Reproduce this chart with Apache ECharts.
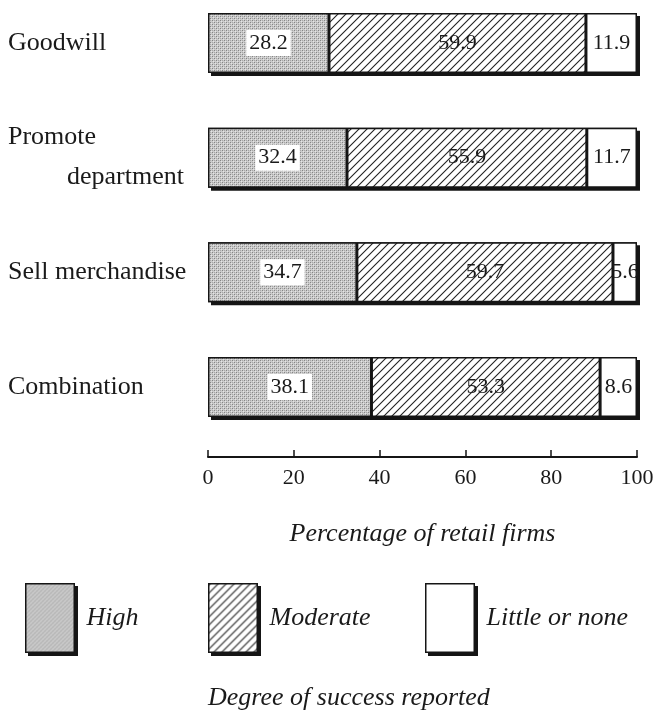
<!DOCTYPE html>
<html><head><meta charset="utf-8">
<script src="https://cdn.jsdelivr.net/npm/echarts@6/dist/echarts.min.js"></script>
<style>html,body{margin:0;padding:0;background:#fff}#c{width:657px;height:711px}</style>
</head><body><div id="c"></div>
<script>
const categories = ['Goodwill', 'Promote department', 'Sell merchandise', 'Combination'];
const high = [28.2, 32.4, 34.7, 38.1];
const moderate = [59.9, 55.9, 59.7, 53.3];
const little = [11.9, 11.7, 5.6, 8.6];
const seriesNames = ['High', 'Moderate', 'Little or none'];
const xTicks = [0, 20, 40, 60, 80, 100];

function stipple() {
  const c = document.createElement('canvas'); c.width = 4; c.height = 4;
  const g = c.getContext('2d');
  g.fillStyle = '#cbcbcb'; g.fillRect(0, 0, 4, 4);
  g.fillStyle = '#858585'; g.fillRect(0, 0, 1, 1); g.fillRect(2, 2, 1, 1);
  g.fillStyle = '#a8a8a8'; g.fillRect(2, 0, 1, 1); g.fillRect(0, 2, 1, 1);
  g.fillStyle = '#e4e4e4'; g.fillRect(1, 1, 1, 1); g.fillRect(3, 3, 1, 1);
  return c;
}
function hatch() {
  const c = document.createElement('canvas'); c.width = 8; c.height = 8;
  const g = c.getContext('2d');
  g.fillStyle = '#ffffff'; g.fillRect(0, 0, 8, 8);
  g.strokeStyle = '#222'; g.lineWidth = 1.1;
  g.beginPath();
  g.moveTo(-1, 9); g.lineTo(9, -1);
  g.moveTo(-1, 1); g.lineTo(1, -1);
  g.moveTo(7, 9); g.lineTo(9, 7);
  g.stroke();
  return c;
}
const fills = [
  { image: stipple(), repeat: 'repeat' },
  { image: hatch(), repeat: 'repeat' },
  '#ffffff'
];
const serif = '"Liberation Serif", "DejaVu Serif", serif';
const ink = '#151515';
const txt = '#1a1a1a';
const seriesData = [high, moderate, little];
const chart = echarts.init(document.getElementById('c'));
const legendLefts = [25, 208, 425];
chart.setOption({
  backgroundColor: '#ffffff',
  animation: false,
  title: {
    text: 'Degree of success reported', left: 203, top: 680,
    textStyle: { fontFamily: serif, fontStyle: 'italic', fontWeight: 'normal', fontSize: 26, color: txt }
  },
  legend: seriesNames.map((n, i) => ({
    data: [n], left: legendLefts[i], top: 583, padding: 0,
    itemWidth: 47, itemHeight: 67, icon: 'rect',
    itemStyle: { borderColor: ink, borderWidth: 3, shadowColor: ink, shadowOffsetX: 3, shadowOffsetY: 3, shadowBlur: 0 },
    textStyle: { fontFamily: serif, fontStyle: 'italic', fontSize: 26, color: txt, padding: [0, 0, 0, 8] },
    selectedMode: false
  })),
  grid: { left: 208, right: 20, top: 43, bottom: 324 },
  xAxis: {
    type: 'value', min: 0, max: 100, interval: 20, offset: 70,
    axisLine: { show: true, lineStyle: { color: ink, width: 2 } },
    axisTick: { show: true, inside: true, length: 7, lineStyle: { color: ink, width: 1.5 } },
    splitLine: { show: false },
    axisLabel: {
      margin: 10, fontFamily: serif, fontSize: 22, color: txt,
      formatter: v => xTicks.includes(v) ? String(v) : ''
    },
    name: 'Percentage of retail firms', nameLocation: 'middle', nameGap: 64,
    nameTextStyle: { fontFamily: serif, fontStyle: 'italic', fontSize: 26, color: txt }
  },
  yAxis: {
    type: 'category', data: categories, inverse: true, boundaryGap: false,
    axisLine: { show: false }, axisTick: { show: false }, splitLine: { show: false },
    axisLabel: {
      align: 'left', margin: 200, fontFamily: serif, fontSize: 26, color: txt,
      formatter: v => v === 'Promote department' ? '{a|Promote}\n{b|department}' : '{a|' + v + '}',
      rich: {
        a: { fontFamily: serif, fontSize: 26, color: txt, lineHeight: 40 },
        b: { fontFamily: serif, fontSize: 26, color: txt, lineHeight: 40, padding: [0, 0, 0, 59] }
      }
    }
  },
  series: seriesNames.map((n, i) => ({
    name: n, type: 'bar', stack: 'all', barWidth: 60,
    data: seriesData[i],
    showBackground: i === 0,
    backgroundStyle: { color: ink, shadowColor: ink, shadowOffsetX: 3, shadowOffsetY: 3, shadowBlur: 0 },
    itemStyle: { color: fills[i], borderColor: ink, borderWidth: 1.5 },
    label: {
      show: true, position: 'inside', formatter: p => p.value.toFixed(1),
      fontFamily: serif, fontSize: 22, color: txt,
      backgroundColor: i === 0 ? '#ffffff' : 'transparent',
      padding: i === 0 ? [2, 3] : 0
    }
  }))
});
// Draw legend icon borders beneath their fill so the drop shadow only shows outside the box.
(function fixLegendIcons() {
  const zr = chart.getZr();
  zr.storage.getDisplayList(true).forEach(el => {
    if (el.style && el.style.shadowOffsetX === 3 && el.style.lineWidth === 3) {
      el.style.strokeFirst = true;
      el.dirty && el.dirty();
    }
  });
  zr.refreshImmediately();
})();
</script></body></html>
